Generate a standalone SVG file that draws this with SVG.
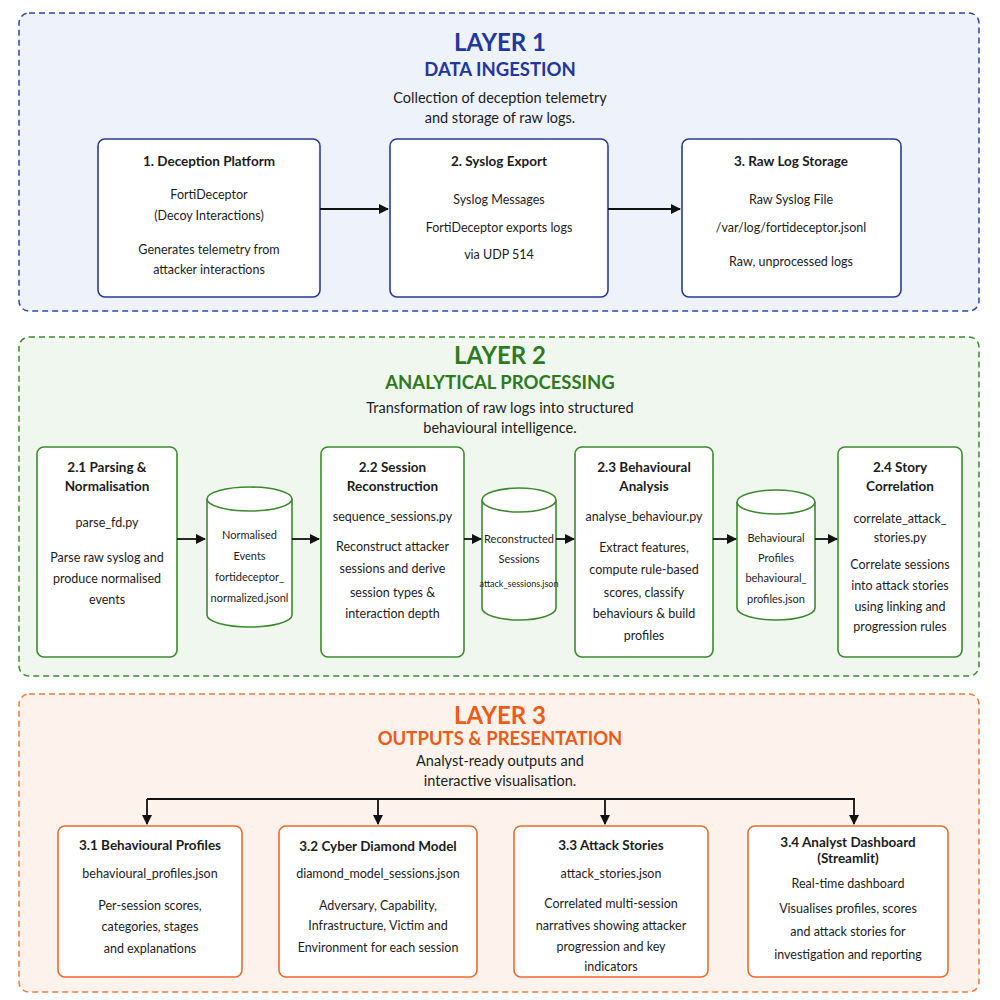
<svg xmlns="http://www.w3.org/2000/svg" width="1000" height="1000" viewBox="0 0 1000 1000">
<defs>
<marker id="ah" markerWidth="10" markerHeight="10" refX="9" refY="5" orient="auto" markerUnits="userSpaceOnUse">
<path d="M0,0 L10,5 L0,10 z" fill="#111"/>
</marker>
<style>
text{font-family:Lato,"Open Sans","Liberation Sans",sans-serif;text-anchor:middle;fill:#1c1c1c}
.lt{font-size:24px;font-weight:700}
.ls{font-size:18.5px;font-weight:700}
.ld{font-size:14.5px}
.nt{font-size:13.5px;font-weight:700}
.nb{font-size:12.5px}
.cy{font-size:11px}
.sm{font-size:9px}
.n1{fill:#fff;stroke:#2b3a98;stroke-width:1.6}
.n2{fill:#fff;stroke:#3b8a2e;stroke-width:1.6}
.n3{fill:#fff;stroke:#ee6a2c;stroke-width:1.6}
.c{fill:none;stroke:#111;stroke-width:1.8}
</style>
</defs>
<rect width="1000" height="1000" fill="#fff"/>

<!-- Layer containers -->
<g id="layer1">
<rect x="19" y="13" width="960" height="298" rx="10" fill="#eef2fb" stroke="#2f45a8" stroke-width="1.5" stroke-dasharray="6,4"/>
<text class="lt" x="500" y="51" style="fill:#1f37a0">LAYER 1</text>
<text class="ls" x="500" y="76" style="fill:#1f37a0">DATA INGESTION</text>
<text class="ld" x="500" y="103">Collection of deception telemetry</text>
<text class="ld" x="500" y="123">and storage of raw logs.</text>
</g>
<g id="layer2">
<rect x="19" y="337" width="960" height="339" rx="10" fill="#f0f7ee" stroke="#3c8c2c" stroke-width="1.5" stroke-dasharray="6,4"/>
<text class="lt" x="500" y="364" style="fill:#2d7a1f">LAYER 2</text>
<text class="ls" x="500" y="389" style="fill:#2d7a1f">ANALYTICAL PROCESSING</text>
<text class="ld" x="500" y="413">Transformation of raw logs into structured</text>
<text class="ld" x="500" y="433">behavioural intelligence.</text>
</g>
<g id="layer3">
<rect x="19" y="694" width="960" height="298" rx="10" fill="#fdf3ec" stroke="#f07a3a" stroke-width="1.5" stroke-dasharray="6,4"/>
<text class="lt" x="500" y="724" style="fill:#ef5a16">LAYER 3</text>
<text class="ls" x="500" y="745" style="fill:#ef5a16">OUTPUTS &amp; PRESENTATION</text>
<text class="ld" x="500" y="766">Analyst-ready outputs and</text>
<text class="ld" x="500" y="786">interactive visualisation.</text>
</g>

<!-- Layer 1 nodes -->
<g id="n1">
<rect class="n1" x="98" y="139" width="222" height="158" rx="7"/>
<text class="nt" x="209" y="166">1. Deception Platform</text>
<text class="nb" x="209" y="199">FortiDeceptor</text>
<text class="nb" x="209" y="220">(Decoy Interactions)</text>
<text class="nb" x="209" y="254">Generates telemetry from</text>
<text class="nb" x="209" y="274">attacker interactions</text>
</g>
<g id="n2">
<rect class="n1" x="390" y="139" width="218" height="158" rx="7"/>
<text class="nt" x="499" y="166">2. Syslog Export</text>
<text class="nb" x="499" y="204">Syslog Messages</text>
<text class="nb" x="499" y="232">FortiDeceptor exports logs</text>
<text class="nb" x="499" y="259">via UDP 514</text>
</g>
<g id="n3">
<rect class="n1" x="682" y="139" width="219" height="158" rx="7"/>
<text class="nt" x="791" y="166">3. Raw Log Storage</text>
<text class="nb" x="791" y="204">Raw Syslog File</text>
<text class="nb" x="791" y="232">/var/log/fortideceptor.jsonl</text>
<text class="nb" x="791" y="266">Raw, unprocessed logs</text>
</g>

<!-- Layer 2 nodes -->
<g id="n21">
<rect class="n2" x="37" y="447" width="140" height="210" rx="7"/>
<text class="nt" x="107" y="472">2.1 Parsing &amp;</text>
<text class="nt" x="107" y="491">Normalisation</text>
<text class="nb" x="107" y="527">parse_fd.py</text>
<text class="nb" x="107" y="562">Parse raw syslog and</text>
<text class="nb" x="107" y="583">produce normalised</text>
<text class="nb" x="107" y="604">events</text>
</g>
<g id="db1">
<path class="n2" d="M207,499 L207,615 A42.5,12 0 0 0 292,615 L292,499 A42.5,12 0 0 0 207,499 z"/>
<path class="n2" d="M207,499 A42.5,12 0 0 0 292,499" fill="none"/>
<text class="cy" x="249.5" y="539">Normalised</text>
<text class="cy" x="249.5" y="560">Events</text>
<text class="cy" x="249.5" y="581">fortideceptor_</text>
<text class="cy" x="249.5" y="602">normalized.jsonl</text>
</g>
<g id="n22">
<rect class="n2" x="321" y="447" width="143" height="210" rx="7"/>
<text class="nt" x="392.5" y="472">2.2 Session</text>
<text class="nt" x="392.5" y="491">Reconstruction</text>
<text class="nb" x="392.5" y="521">sequence_sessions.py</text>
<text class="nb" x="392.5" y="551">Reconstruct attacker</text>
<text class="nb" x="392.5" y="573">sessions and derive</text>
<text class="nb" x="392.5" y="597">session types &amp;</text>
<text class="nb" x="392.5" y="618">interaction depth</text>
</g>
<g id="db2">
<path class="n2" d="M482,500 L482,608 A37,12 0 0 0 556,608 L556,500 A37,12 0 0 0 482,500 z"/>
<path class="n2" d="M482,500 A37,12 0 0 0 556,500" fill="none"/>
<text class="cy" x="519" y="543">Reconstructed</text>
<text class="cy" x="519" y="563">Sessions</text>
<text class="sm" x="519" y="587">attack_sessions.json</text>
</g>
<g id="n23">
<rect class="n2" x="575" y="447" width="138" height="210" rx="7"/>
<text class="nt" x="644" y="472">2.3 Behavioural</text>
<text class="nt" x="644" y="491">Analysis</text>
<text class="nb" x="644" y="521">analyse_behaviour.py</text>
<text class="nb" x="644" y="552">Extract features,</text>
<text class="nb" x="644" y="574">compute rule-based</text>
<text class="nb" x="644" y="597">scores, classify</text>
<text class="nb" x="644" y="618">behaviours &amp; build</text>
<text class="nb" x="644" y="640">profiles</text>
</g>
<g id="db3">
<path class="n2" d="M737,502 L737,608 A39,12 0 0 0 815,608 L815,502 A39,12 0 0 0 737,502 z"/>
<path class="n2" d="M737,502 A39,12 0 0 0 815,502" fill="none"/>
<text class="cy" x="776" y="542">Behavioural</text>
<text class="cy" x="776" y="562">Profiles</text>
<text class="cy" x="776" y="582">behavioural_</text>
<text class="cy" x="776" y="603">profiles.json</text>
</g>
<g id="n24">
<rect class="n2" x="838" y="447" width="124" height="210" rx="7"/>
<text class="nt" x="900" y="472">2.4 Story</text>
<text class="nt" x="900" y="491">Correlation</text>
<text class="nb" x="900" y="523">correlate_attack_</text>
<text class="nb" x="900" y="542">stories.py</text>
<text class="nb" x="900" y="569">Correlate sessions</text>
<text class="nb" x="900" y="590">into attack stories</text>
<text class="nb" x="900" y="611">using linking and</text>
<text class="nb" x="900" y="631">progression rules</text>
</g>

<!-- Layer 3 nodes -->
<g id="n31">
<rect class="n3" x="58" y="826" width="184" height="151" rx="7"/>
<text class="nt" x="150" y="850">3.1 Behavioural Profiles</text>
<text class="nb" x="150" y="878">behavioural_profiles.json</text>
<text class="nb" x="150" y="910">Per-session scores,</text>
<text class="nb" x="150" y="931">categories, stages</text>
<text class="nb" x="150" y="953">and explanations</text>
</g>
<g id="n32">
<rect class="n3" x="279" y="826" width="198" height="151" rx="7"/>
<text class="nt" x="378" y="851">3.2 Cyber Diamond Model</text>
<text class="nb" x="378" y="878">diamond_model_sessions.json</text>
<text class="nb" x="378" y="910">Adversary, Capability,</text>
<text class="nb" x="378" y="930">Infrastructure, Victim and</text>
<text class="nb" x="378" y="952">Environment for each session</text>
</g>
<g id="n33">
<rect class="n3" x="514" y="826" width="194" height="151" rx="7"/>
<text class="nt" x="611" y="850">3.3 Attack Stories</text>
<text class="nb" x="611" y="878">attack_stories.json</text>
<text class="nb" x="611" y="908">Correlated multi-session</text>
<text class="nb" x="611" y="930">narratives showing attacker</text>
<text class="nb" x="611" y="951">progression and key</text>
<text class="nb" x="611" y="971">indicators</text>
</g>
<g id="n34">
<rect class="n3" x="748" y="826" width="200" height="151" rx="7"/>
<text class="nt" x="848" y="847">3.4 Analyst Dashboard</text>
<text class="nt" x="848" y="863">(Streamlit)</text>
<text class="nb" x="848" y="888">Real-time dashboard</text>
<text class="nb" x="848" y="913">Visualises profiles, scores</text>
<text class="nb" x="848" y="936">and attack stories for</text>
<text class="nb" x="848" y="959">investigation and reporting</text>
</g>

<!-- Connectors -->
<g id="connectors">
<line class="c" x1="320" y1="209" x2="388" y2="209" marker-end="url(#ah)"/>
<line class="c" x1="608" y1="209" x2="680" y2="209" marker-end="url(#ah)"/>
<line class="c" x1="177" y1="539" x2="205" y2="539" marker-end="url(#ah)"/>
<line class="c" x1="292" y1="539" x2="319" y2="539" marker-end="url(#ah)"/>
<line class="c" x1="464" y1="539" x2="481" y2="539" marker-end="url(#ah)"/>
<line class="c" x1="556" y1="539" x2="574" y2="539" marker-end="url(#ah)"/>
<line class="c" x1="713" y1="539" x2="736" y2="539" marker-end="url(#ah)"/>
<line class="c" x1="815" y1="539" x2="837" y2="539" marker-end="url(#ah)"/>
<line class="c" x1="147" y1="799" x2="855" y2="799"/>
<line class="c" x1="147" y1="799" x2="147" y2="824" marker-end="url(#ah)"/>
<line class="c" x1="378" y1="799" x2="378" y2="824" marker-end="url(#ah)"/>
<line class="c" x1="605" y1="799" x2="605" y2="824" marker-end="url(#ah)"/>
<line class="c" x1="854" y1="799" x2="854" y2="824" marker-end="url(#ah)"/>
</g>
</svg>
